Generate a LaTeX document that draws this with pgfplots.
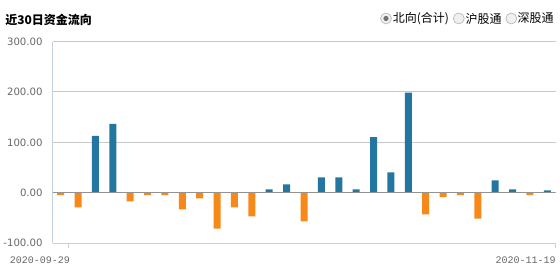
\documentclass[border=0pt]{standalone}
\usepackage{pgfplots}
\pgfplotsset{compat=1.18}
\usepackage{fontspec}
\setmainfont{DejaVu Sans}
\newfontfamily\cjk{Noto Sans CJK SC}
\newfontfamily\mono{Liberation Mono}
\definecolor{barblue}{HTML}{22769F}
\definecolor{barorange}{HTML}{F7891B}
\definecolor{gridgray}{HTML}{C8C8C8}
\definecolor{axisblue}{HTML}{C2D1E0}
\definecolor{labgray}{HTML}{666666}
\begin{document}
\begin{tikzpicture}
\path[use as bounding box] (0pt,0pt) rectangle (420pt,209.25pt);
\begin{axis}[
  at={(39.375pt,26.775pt)}, anchor=south west,
  scale only axis, width=377.25pt, height=151.35pt,
  xmin=-0.47, xmax=28.47, ymin=-100, ymax=300,
  enlargelimits=false,
  axis x line*=bottom, axis y line*=left,
  x axis line style={-, draw=axisblue, line width=0.75pt},
  y axis line style={-, draw=axisblue, line width=0.75pt},
  xtick={0.45,28.47}, xticklabels={},
  tick align=outside,
  major tick length=3.75pt,
  xtick style={draw=axisblue, line width=0.75pt},
  ytick={-100,0,100,200,300},
  ytick style={draw=none},
  ymajorgrids, grid style={draw=gridgray, line width=0.75pt},
  /pgf/number format/assume math mode=true,
  yticklabel={\pgfmathprintnumber[fixed,fixed zerofill,precision=2]{\tick}},
  yticklabel style={font=\fontsize{7.6pt}{9pt}\selectfont, text=labgray, anchor=east, inner sep=0pt, xshift=-3.5pt},
  ybar, bar width=5.25pt, bar shift=0pt,
]
\addplot[fill=barblue, draw=none] coordinates {
 (2,112.7) (3,136.7) (12,6.7) (13,16.7) (15,30.7) (16,30.7) (17,6.7)
 (18,110.7) (19,40.7) (20,198.7) (25,24.7) (26,6.7) (28,4.7)};
\addplot[fill=barorange, draw=none] coordinates {
 (0,-4.7) (1,-28.7) (4,-16.7) (5,-4.7) (6,-4.7) (7,-32.7) (8,-10.7)
 (9,-70.7) (10,-28.7) (11,-46.7) (14,-56.7) (21,-42.7) (22,-8.7)
 (23,-4.7) (24,-51.3) (27,-4.7)};
\addplot[sharp plot, draw=gray!85, line width=0.75pt, no marks, forget plot] coordinates {(-0.47,0) (28.47,0)};
\end{axis}
% title
\node[anchor=west, inner sep=0pt] at (3.75pt,194.25pt) {\cjk\bfseries\fontsize{9pt}{11pt}\selectfont 近30日资金流向};
% radio buttons
\draw[gray!60, fill=gray!12, line width=0.45pt] (289.5pt,195.4pt) circle[radius=4.1pt];
\fill[gray!90!black] (289.5pt,195.4pt) circle[radius=1.95pt];
\draw[gray!60, fill=gray!12, line width=0.45pt] (344.1pt,195.4pt) circle[radius=4.1pt];
\draw[gray!60, fill=gray!12, line width=0.45pt] (383.5pt,195.4pt) circle[radius=4.1pt];
\node[anchor=west, inner sep=0pt] at (294.4pt,195.4pt) {\cjk\fontsize{9pt}{10pt}\selectfont 北向(合计)};
\node[anchor=west, inner sep=0pt] at (349.1pt,195.4pt) {\cjk\fontsize{9pt}{10pt}\selectfont 沪股通};
\node[anchor=west, inner sep=0pt] at (388.1pt,195.4pt) {\cjk\fontsize{9pt}{10pt}\selectfont 深股通};
% date labels
\node[inner sep=0pt, text=labgray] at (30pt,13.9pt) {\mono\fontsize{7.5pt}{9pt}\selectfont 2020-09-29};
\node[anchor=east, inner sep=0pt, text=labgray] at (417pt,13.9pt) {\mono\fontsize{7.5pt}{9pt}\selectfont 2020-11-19};
\end{tikzpicture}
\end{document}
